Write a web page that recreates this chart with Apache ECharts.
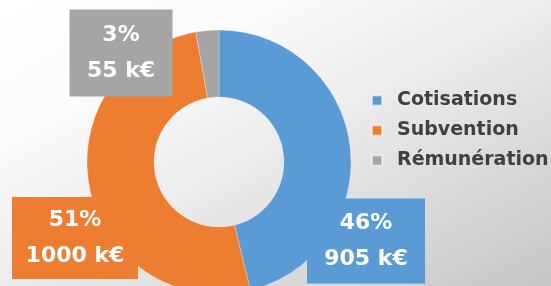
<!DOCTYPE html>
<html>
<head>
<meta charset="utf-8">
<script src="https://cdn.jsdelivr.net/npm/echarts@6/dist/echarts.min.js"></script>
<style>
    html, body { margin: 0; padding: 0; }
    #chart { width: 551px; height: 286px; }
</style>
</head>
<body>
<div id="chart"></div>
<script>
// données (k€)
const categories = ["Cotisations", "Subvention", "Rémunération"]
const values = [905, 1000, 55]

const colors = ["#5B9BD5", "#ED7D31", "#A5A5A5"]
// position des étiquettes (centre, taille de la boîte)
const boxes = [
    { cx: 366, cy: 241, w: 118, h: 85 },
    { cx: 75, cy: 238, w: 126, h: 82 },
    { cx: 121, cy: 53, w: 103, h: 87 },
]
const LINE_H = 36

const myChart = echarts.init(document.getElementById("chart"))

myChart.setOption({
    backgroundColor: new echarts.graphic.LinearGradient(0, 0, 234, 451, [
        { offset: 0, color: "#ffffff" },
        { offset: 0.25, color: "#fbfbfb" },
        { offset: 0.5, color: "#ececec" },
        { offset: 1, color: "#c6c6c6" },
    ], true),
    color: colors,
    legend: {
        orient: "vertical",
        left: 366,
        top: 86,
        itemWidth: 10,
        itemHeight: 10,
        itemGap: 11,
        icon: "rect",
        selectedMode: false,
        textStyle: {
            fontFamily: "DejaVu Sans",
            fontWeight: "bold",
            fontSize: 19,
            color: "#404040",
            padding: [0, 0, 0, 10],
        },
        data: categories,
    },
    series: [
        {
            type: "pie",
            center: [219, 162],
            radius: [65, 132],
            startAngle: 90,
            clockwise: true,
            percentPrecision: 0,
            avoidLabelOverlap: false,
            silent: true,
            itemStyle: {
                borderColor: "rgba(255,255,255,0.5)",
                borderWidth: 0.5,
            },
            labelLine: { show: false },
            label: {
                show: true,
                position: "inside",
                formatter: "{d}%\n{c} k€",
                fontFamily: "DejaVu Sans",
                fontWeight: "bold",
                fontSize: 22,
                color: "#ffffff",
                lineHeight: LINE_H,
            },
            labelLayout: function (params) {
                const b = boxes[params.dataIndex]
                return { x: b.cx, y: b.cy, align: "center", verticalAlign: "middle" }
            },
            data: categories.map((name, i) => {
                const b = boxes[i]
                const pad = (b.h - 2 * LINE_H) / 2
                return {
                    name: name,
                    value: values[i],
                    label: {
                        backgroundColor: colors[i],
                        width: b.w,
                        padding: [pad, 0, pad, 0],
                    },
                }
            }),
        },
    ],
})

window.addEventListener("resize", function () {
    myChart.resize()
})
</script>
</body>
</html>
